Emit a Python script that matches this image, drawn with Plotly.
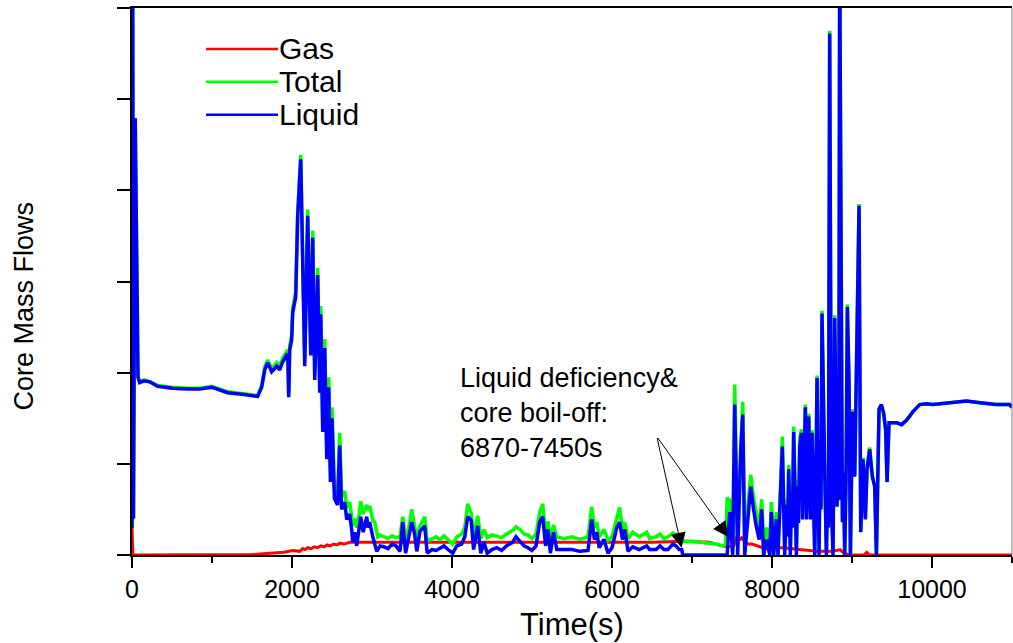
import plotly.graph_objects as go

# ---------------- data ----------------
series_names = ["Gas", "Total", "Liquid"]
series_colors = ["#FF0000", "#00FF00", "#0000FF"]

# Liquid, 0 s up to the end of the deficiency period
liq_early_t = [0, 8, 18, 40, 75, 96, 150, 221, 321, 500,
               700, 846, 1000, 1196, 1400, 1571, 1621, 1659, 1696, 1746,
               1809, 1846, 1884, 1934, 1946, 1959, 1971, 1996, 2009, 2046,
               2071, 2109, 2159, 2196, 2234, 2259, 2284, 2321, 2346, 2359,
               2384, 2409, 2434, 2459, 2480, 2500, 2530, 2570, 2596, 2620,
               2659, 2684, 2720, 2746, 2759, 2784, 2809, 2840, 2859, 2890,
               2934, 2950, 2971, 3010, 3059, 3100, 3150, 3200, 3250, 3300,
               3350, 3384, 3420, 3460, 3496, 3530, 3560, 3600, 3659, 3690,
               3750, 3800, 3850, 3900, 3950, 4009, 4060, 4120, 4160, 4196,
               4240, 4270, 4321, 4360, 4400, 4440, 4500, 4560, 4620, 4680,
               4759, 4800, 4850, 4900, 4950, 5000, 5050, 5096, 5134, 5170,
               5200, 5230, 5270, 5310, 5400, 5500, 5600, 5700, 5746, 5780,
               5810, 5840, 5900, 5950, 6000, 6060, 6096, 6130, 6160, 6200,
               6260, 6340, 6434, 6470, 6550, 6600, 6650, 6700, 6760, 6800,
               6840, 6871, 6884, 7440]
liq_early_v = [0.3, 6.6, 0.4, 4.79, 1.95, 1.89, 1.91, 1.9, 1.85, 1.83,
               1.82, 1.82, 1.84, 1.78, 1.76, 1.74, 1.84, 2.03, 2.11, 2.01,
               2.07, 2.03, 2.12, 2.18, 2.21, 1.73, 2.25, 2.36, 2.66, 2.83,
               3.71, 4.34, 2.07, 3.72, 2.19, 3.48, 1.92, 3.07, 1.78, 2.64,
               1.35, 2.27, 1.05, 1.84, 0.8, 1.5, 0.62, 0.55, 1.2, 0.5,
               0.58, 0.39, 0.45, 0.28, 0.14, 0.25, 0.1, 0.3, 0.42, 0.25,
               0.42, 0.3, 0.36, 0.2, 0.04, 0.1, 0.09, 0.07, 0.12, 0.1,
               0.04, 0.36, 0.02, 0.2, 0.36, 0.24, 0.04, 0.26, 0.32, 0.02,
               0.06, 0.05, 0.08, 0.1, 0.06, 0.02, 0.1, 0.12, 0.2, 0.42,
               0.38, 0.06, 0.32, 0.02, 0.14, 0.02, 0.06, 0.08, 0.05, 0.1,
               0.14, 0.2, 0.15, 0.1, 0.08, 0.05, 0.1, 0.36, 0.42, 0.1,
               0.28, 0.02, 0.25, 0.06, 0.06, 0.06, 0.04, 0.05, 0.39, 0.17,
               0.25, 0.08, 0.17, 0.02, 0.08, 0.3, 0.36, 0.17, 0.28, 0.04,
               0.09, 0.06, 0.1, 0.06, 0.06, 0.1, 0.06, 0.06, 0.12, 0.1,
               0.06, 0.06, 0.0, 0.0]

# Total, 0 s up to the end of the deficiency period
tot_early_t = [0, 8, 18, 40, 75, 96, 150, 221, 321, 500,
               700, 846, 1000, 1196, 1400, 1571, 1621, 1659, 1696, 1746,
               1809, 1846, 1884, 1934, 1946, 1959, 1971, 1996, 2009, 2046,
               2071, 2109, 2159, 2196, 2234, 2259, 2284, 2321, 2346, 2359,
               2384, 2409, 2434, 2459, 2480, 2500, 2530, 2570, 2596, 2620,
               2659, 2684, 2720, 2746, 2759, 2784, 2809, 2840, 2859, 2890,
               2934, 2950, 2971, 3010, 3034, 3071, 3100, 3150, 3200, 3250,
               3300, 3350, 3384, 3420, 3460, 3496, 3530, 3560, 3600, 3659,
               3690, 3750, 3800, 3850, 3900, 3950, 4009, 4060, 4120, 4160,
               4196, 4240, 4270, 4321, 4360, 4400, 4440, 4500, 4560, 4620,
               4680, 4759, 4800, 4850, 4900, 4950, 5000, 5050, 5096, 5134,
               5170, 5200, 5230, 5270, 5310, 5400, 5500, 5600, 5700, 5746,
               5780, 5810, 5840, 5900, 5950, 6000, 6060, 6096, 6130, 6160,
               6200, 6260, 6340, 6434, 6470, 6550, 6600, 6650, 6700, 6760,
               6800, 6871, 6950, 7009, 7100, 7221, 7300, 7384, 7420, 7440]
tot_early_v = [0.3, 6.6, 0.4, 4.79, 1.95, 1.9, 1.92, 1.9, 1.86, 1.84,
               1.83, 1.83, 1.85, 1.79, 1.77, 1.75, 1.86, 2.06, 2.14, 2.04,
               2.11, 2.07, 2.16, 2.22, 2.25, 1.77, 2.3, 2.41, 2.71, 2.88,
               3.77, 4.39, 2.13, 3.79, 2.26, 3.56, 2.0, 3.15, 1.87, 2.73,
               1.44, 2.37, 1.15, 1.95, 0.92, 1.62, 0.75, 0.68, 1.34, 0.64,
               0.7, 0.52, 0.58, 0.42, 0.32, 0.4, 0.3, 0.45, 0.59, 0.45,
               0.55, 0.5, 0.54, 0.38, 0.36, 0.2, 0.22, 0.2, 0.18, 0.21,
               0.19, 0.2, 0.42, 0.17, 0.3, 0.5, 0.32, 0.18, 0.32, 0.42,
               0.15, 0.18, 0.2, 0.17, 0.21, 0.17, 0.12, 0.2, 0.23, 0.3,
               0.56, 0.46, 0.2, 0.43, 0.18, 0.28, 0.19, 0.22, 0.2, 0.19,
               0.23, 0.27, 0.31, 0.28, 0.23, 0.22, 0.18, 0.23, 0.47, 0.56,
               0.22, 0.37, 0.17, 0.33, 0.2, 0.18, 0.2, 0.17, 0.2, 0.53,
               0.3, 0.36, 0.2, 0.28, 0.16, 0.2, 0.41, 0.52, 0.28, 0.36,
               0.18, 0.25, 0.2, 0.25, 0.18, 0.2, 0.23, 0.18, 0.2, 0.24,
               0.22, 0.15, 0.15, 0.15, 0.14, 0.13, 0.12, 0.1, 0.12, 0.63]

# Oscillation burst after the deficiency period (shared times)
burst_t = [7471, 7509, 7534, 7571, 7609, 7634, 7659,
           7734, 7770, 7800, 7840, 7871, 7896,
           7934, 7971, 7992, 8021, 8054, 8075,
           8109, 8129, 8159, 8180, 8195, 8209,
           8229, 8245, 8255, 8271, 8305, 8320,
           8332, 8346, 8367, 8384, 8417, 8434,
           8459, 8484, 8500, 8515, 8534, 8548,
           8563, 8588, 8600, 8612, 8625, 8659,
           8680, 8695, 8705, 8721, 8742, 8763,
           8784, 8813, 8825, 8835, 8846, 8880,
           8893, 8909, 8925, 8942, 8963, 8980,
           9005, 9034, 9088, 9109, 9138, 9167,
           9188, 9221, 9254, 9284, 9305]
burst_liquid = [0.47, 0.0, 1.65, 0.0, 1.16, 1.54, 0.0,
                0.75, 0.5, 0.33, 0.17, 0.5, 0.0,
                0.17, 0.0, 0.47, 0.0, 0.39, 0.0,
                0.7, 1.19, 0.0, 0.55, 0.2, 0.94,
                0.0, 0.7, 0.3, 1.35, 0.0, 0.75,
                0.35, 1.18, 1.34, 0.39, 1.62, 0.39,
                1.52, 0.39, 1.34, 0.7, 0.0, 0.8,
                1.94, 0.0, 1.0, 0.5, 2.65, 0.9,
                0.0, 0.7, 0.3, 5.72, 0.58, 0.0,
                2.6, 0.53, 1.1, 0.6, 6.6, 0.36,
                0.9, 0.0, 0.8, 2.72, 1.85, 0.0,
                1.57, 0.86, 3.83, 0.25, 1.05, 0.39,
                0.94, 1.16, 0.86, 0.75, 0.0]
burst_total = [0.6, 0.12, 1.87, 0.15, 1.24, 1.68, 0.17,
               0.88, 0.62, 0.46, 0.3, 0.61, 0.12,
               0.3, 0.1, 0.58, 0.1, 0.47, 0.09,
               0.8, 1.3, 0.08, 0.62, 0.27, 0.99,
               0.08, 0.77, 0.37, 1.41, 0.07, 0.82,
               0.41, 1.27, 1.38, 0.45, 1.65, 0.45,
               1.55, 0.44, 1.37, 0.74, 0.05, 0.84,
               1.97, 0.04, 1.04, 0.54, 2.68, 0.93,
               0.04, 0.74, 0.34, 5.75, 0.62, 0.04,
               2.63, 0.57, 1.14, 0.64, 6.6, 0.4,
               0.94, 0.04, 0.84, 2.75, 1.9, 0.02,
               1.6, 0.88, 3.85, 0.26, 1.07, 0.41,
               0.96, 1.18, 0.87, 0.76, 0.0]

# Recovery (gas is zero here, so liquid and total coincide)
recovery_t = [9338, 9367, 9396, 9421, 9438, 9463, 9560, 9620, 9684, 9760,
              9846, 9930, 10009, 10200, 10434, 10600, 10800, 10971, 11000]
recovery_v = [1.6, 1.65, 1.55, 1.37, 0.8, 1.45, 1.45, 1.43, 1.48, 1.57,
              1.65, 1.66, 1.65, 1.67, 1.69, 1.67, 1.65, 1.65, 1.62]

gas_t = [0, 10, 20, 500, 1000, 1500, 1721, 1900, 2009, 2096, 2134, 2160, 2200, 2240, 2280, 2320, 2360, 2400, 2440,
         2480, 2520, 2560, 2600, 2650, 2721, 3000, 3500, 4000, 4500, 5000, 5500, 6000, 6500, 6884, 7221, 7384,
         7450, 7520, 7560, 7600, 7621, 7660, 7700, 7750, 7884, 8134, 8384, 8559, 8759, 8850, 8900, 8971, 9150,
         9184, 9220, 9300, 11000]
gas_v = [0.31, 0.0, 0.0, 0.0, 0.0, 0.005, 0.02, 0.03, 0.05, 0.04, 0.07, 0.06, 0.08, 0.07, 0.09, 0.08, 0.1, 0.09,
         0.11, 0.1, 0.12, 0.11, 0.13, 0.12, 0.14, 0.14, 0.14, 0.14, 0.14, 0.14, 0.14, 0.14, 0.14, 0.15, 0.14, 0.1,
         0.09, 0.1, 0.2, 0.17, 0.19, 0.15, 0.12, 0.12, 0.08, 0.08, 0.06, 0.04, 0.04, 0.06, 0.02, 0.0, 0.0, 0.03,
         0.0, 0.0, 0.0]

x_tick_vals = [0, 2000, 4000, 6000, 8000, 10000]
x_tick_text = ["0", "2000", "4000", "6000", "8000", "10000"]
y_tick_vals = [0, 1, 2, 3, 4, 5, 6]

deficiency_start = 6870
deficiency_end = 7450
note_text = "Liquid deficiency&<br>core boil-off:<br>6870-7450s"

liquid_t = liq_early_t + burst_t + recovery_t
liquid_v = liq_early_v + burst_liquid + recovery_v
total_t = tot_early_t + burst_t + recovery_t
total_v = tot_early_v + burst_total + recovery_v

FONT = "Liberation Sans, Arial, Helvetica, sans-serif"

fig = go.Figure()
for name, color, tx, vy, w in [
    (series_names[0], series_colors[0], gas_t, gas_v, 3),
    (series_names[1], series_colors[1], total_t, total_v, 3.5),
    (series_names[2], series_colors[2], liquid_t, liquid_v, 3.5),
]:
    fig.add_trace(go.Scatter(x=tx, y=vy, mode="lines", name=name,
                             line=dict(color=color, width=w), showlegend=False))

fig.update_layout(
    width=1013, height=643,
    margin=dict(l=132, r=1, t=8, b=88),
    paper_bgcolor="white", plot_bgcolor="white",
    font=dict(family=FONT, color="black"),
    showlegend=False,
)
fig.update_xaxes(
    range=[0, 11000], tickvals=x_tick_vals, ticktext=x_tick_text,
    ticks="outside", ticklen=11, tickwidth=2, tickcolor="black",
    minor=dict(dtick=1000, tick0=0, ticks="outside", ticklen=6, tickwidth=2, tickcolor="black"),
    showline=True, linecolor="black", linewidth=2, mirror=True,
    showgrid=False, zeroline=False, tickfont=dict(size=25, family=FONT, color="black"),
    layer="below traces",
)
fig.update_yaxes(
    range=[0, 6], tickvals=y_tick_vals, showticklabels=False,
    ticks="outside", ticklen=13, tickwidth=2, tickcolor="black",
    showline=True, linecolor="black", linewidth=2,
    showgrid=False, zeroline=False, layer="below traces",
)

# right border (thin gray)
fig.add_shape(type="line", xref="paper", yref="paper", x0=1, x1=1, y0=0, y1=1,
              line=dict(color="#808080", width=1))

# custom legend (line + label), placed in paper coordinates
leg_x0, leg_x1 = 0.0841, 0.1659
leg_y = [0.9252, 0.865, 0.8047]
for name, color, yy in zip(series_names, series_colors, leg_y):
    fig.add_shape(type="line", xref="paper", yref="paper", x0=leg_x0, x1=leg_x1, y0=yy, y1=yy,
                  line=dict(color=color, width=2.5))
    fig.add_annotation(xref="paper", yref="paper", x=leg_x1, y=yy, text=name, showarrow=False,
                       xanchor="left", yanchor="middle", borderpad=0,
                       font=dict(size=30, family=FONT, color="black"))

# axis titles
fig.add_annotation(xref="paper", yref="paper", x=0.5, y=-0.1277, text="Time(s)", showarrow=False,
                   xanchor="center", yanchor="middle", font=dict(size=31, family=FONT, color="black"))
fig.add_annotation(xref="paper", yref="paper", x=-0.1227, y=0.4544, text="Core Mass Flows", showarrow=False,
                   textangle=-90, xanchor="center", yanchor="middle",
                   font=dict(size=27, family=FONT, color="black"))

# note text
fig.add_annotation(xref="x", yref="y", x=4071, y=1.56, text=note_text, showarrow=False,
                   xanchor="left", yanchor="middle", align="left",
                   font=dict(size=27, family=FONT, color="black"))
# arrows to the start / end of the deficiency period
tail_t, tail_v = 6560, 1.3
for head_t, head_v in [(deficiency_start, 0.08), (deficiency_end, 0.2)]:
    fig.add_annotation(xref="x", yref="y", x=head_t, y=head_v, ax=tail_t, ay=tail_v,
                       axref="x", ayref="y", text="", showarrow=True,
                       arrowhead=2, arrowsize=3, arrowwidth=1, arrowcolor="black")

fig.write_html("out.html")
